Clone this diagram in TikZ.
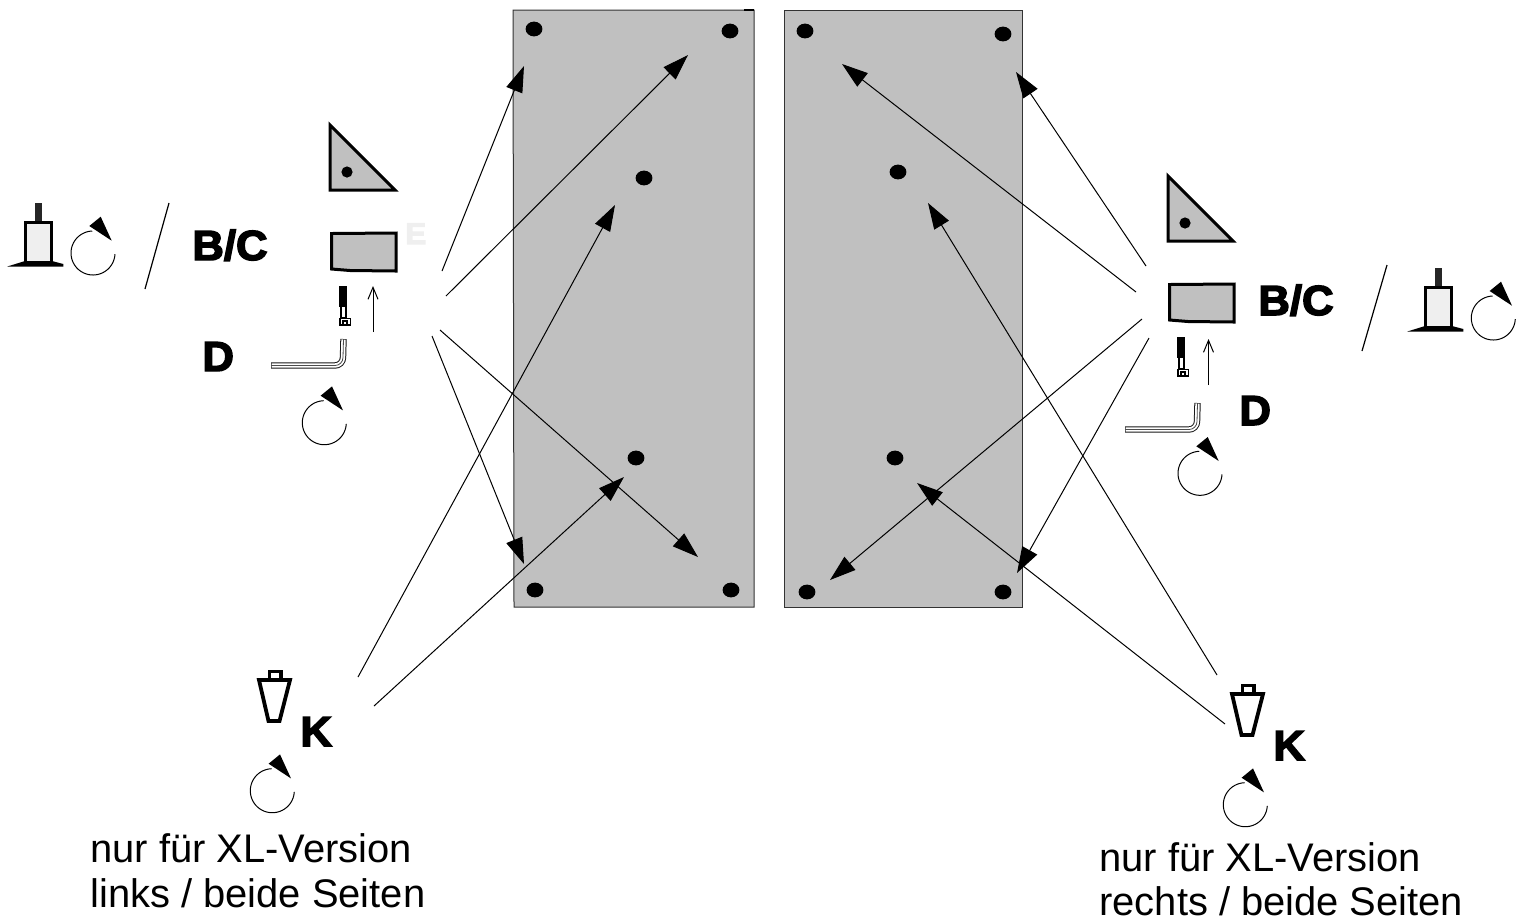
\documentclass[tikz,border=0pt]{standalone}
\usepackage{fontspec}
\setmainfont{Liberation Sans}
\newfontfamily\heavyfont[FakeBold=3.5,FakeStretch=1.04]{Liberation Sans Bold}
\usetikzlibrary{arrows.meta}
\definecolor{panelgray}{HTML}{C0C0C0}
\definecolor{palegray}{HTML}{EFEFEF}
\tikzset{
  conn/.style={line width=0.5pt,-{Triangle[length=13pt,width=8.5pt]}},
  thinline/.style={line width=0.5pt},
  panel/.style={fill=panelgray,draw=black!80,line width=0.5pt},
  part/.style={fill=panelgray,draw=black,line width=1.5pt,line join=miter},
  heavy/.style={anchor=base west,inner sep=0pt,font=\heavyfont\fontsize{21}{24}\selectfont},
  note/.style={anchor=base west,inner sep=0pt,font=\fontsize{19.95}{24}\selectfont},
}
\newcommand{\rotsign}[2]{%
  \draw[thinline] plot[smooth,domain=3:268,samples=50] ({#1+22*cos(\x)},{#2+22*sin(\x)});
  \fill[black] (#1+7.7,#2-36.3) -- (#1-3.7,#2-27) -- (#1+18.7,#2-12.3) -- cycle;
}
\newcommand{\hole}[2]{\fill[black] (#1,#2) ellipse[x radius=4.2pt,y radius=3.7pt];}
\newcommand{\standfoot}{%
  \fill[black!85] (34.7,203) rectangle (42,222);
  \draw[fill=palegray,line width=1.5pt] (25,222) rectangle (51.7,262);
  \fill[black] (7.3,266.5) -- (25,261) -- (52,261) -- (63.3,264) -- (63.3,266.5) -- cycle;
}
\newcommand{\platepart}{%
  \draw[part] (330,125) -- (395,190) -- (330,190) -- cycle;
  \fill[black] (347,172) circle[radius=2.8pt];
  \draw[part] (331.5,233.5) -- (396,233) -- (396,271) -- (350,270.5) -- (331.5,269) -- cycle;
  \draw[line width=0.9pt,fill=white] (341,306) rectangle (346,318);
  \fill[black] (339.3,286) rectangle (346.7,307);
  \draw[line width=0.8pt,fill=white] (339.8,318.5) rectangle (350.3,325);
  \draw[line width=0.6pt,fill=white] (343,321) rectangle (347,324.5);
}
\newcommand{\wrenchpart}{%
  \draw[line width=3.2pt,black!90,line join=round] (271,365.5) -- (335,365.5) arc[start angle=-90,end angle=0,radius=4pt] -- (343.5,339);
  \draw[line width=2.2pt,white,line join=round] (271.5,365.5) -- (335,365.5) arc[start angle=-90,end angle=0,radius=4pt] -- (343.5,339.5);
  \draw[line width=0.4pt,black!70] (271,365.5) -- (335,365.5) arc[start angle=-90,end angle=0,radius=4pt] -- (343.5,339);
}
\newcommand{\conepart}{%
  \draw[line width=1.9pt,line join=miter] (269.5,680) -- (269.5,671.5) -- (281,671.5) -- (281,680);
  \draw[line width=1.9pt,fill=white,line join=miter] (259,680) -- (290,680) -- (279.5,721) -- (268.5,721) -- cycle;
}
\begin{document}
\begin{tikzpicture}[x=0.5pt,y=-0.5pt]
\useasboundingbox (0,0) rectangle (1529,917);
% panels
\draw[panel] (513,10) -- (754,10) -- (754,607) -- (514,607) -- cycle;
\draw[panel] (784,10) -- (1022,10) -- (1022,607) -- (784,607) -- cycle;
\draw[line width=0.8pt,black] (744,10) -- (754,10);
\hole{534}{29}\hole{730}{31}\hole{644}{178}\hole{636}{458}\hole{535}{590}\hole{731}{590}
\hole{805}{31}\hole{1003}{34}\hole{898}{172}\hole{895}{458}\hole{807}{592}\hole{1003}{592}
% connector ends
\coordinate (l1s) at (442,271); \coordinate (l1e) at (524,66);
\coordinate (l2s) at (446,296); \coordinate (l2e) at (688,55);
\coordinate (l3s) at (358,677); \coordinate (l3e) at (615,205);
\coordinate (l4s) at (374,706); \coordinate (l4e) at (624,477);
\coordinate (l5s) at (440,330); \coordinate (l5e) at (698,557);
\coordinate (l6s) at (432,336); \coordinate (l6e) at (524,564);
\coordinate (r1s) at (1146,266); \coordinate (r1e) at (1016,72);
\coordinate (r2s) at (1136,292); \coordinate (r2e) at (842,64);
\coordinate (r3s) at (1142,319); \coordinate (r3e) at (830,580);
\coordinate (r4s) at (1149,338); \coordinate (r4e) at (1017,573);
\coordinate (r5s) at (1217,675); \coordinate (r5e) at (928,203);
\coordinate (r6s) at (1225,724); \coordinate (r6e) at (917,483);
\foreach \c in {l1,l2,l3,l4,l5,l6,r1,r2,r3,r4,r5,r6}
  \draw[conn] (\c s) -- (\c e);
% left group
\standfoot
\rotsign{93}{253}
\coordinate (slashla) at (169,203); \coordinate (slashlb) at (145,289);
\draw[line width=0.6pt] (slashla) -- (slashlb);
\platepart
\coordinate (upls) at (373,332); \coordinate (uple) at (373,286);
\draw[thinline,-{Straight Barb[length=6pt,width=5pt]}] (upls) -- (uple);
\wrenchpart
\rotsign{324.3}{422.7}
\conepart
\rotsign{272.3}{790.7}
\node[heavy] (bcl) at (192,260) {B/C};
\node[heavy,text=palegray,font=\heavyfont\fontsize{15}{18}\selectfont] (el) at (405,244) {E};
\node[heavy] (dl) at (202,371) {D};
\node[heavy] (kl) at (300,746) {K};
\node[note] (nl1) at (90,862) {nur für XL-Version};
\node[note] (nl2) at (90,907) {links / beide Seiten};
% right group
\begin{scope}[shift={(1400,65)}]\standfoot\end{scope}
\rotsign{1493.3}{318}
\coordinate (slashra) at (1387,265); \coordinate (slashrb) at (1362,351);
\draw[line width=0.6pt] (slashra) -- (slashrb);
\begin{scope}[shift={(838,51)}]\platepart\end{scope}
\coordinate (uprs) at (1208.5,385); \coordinate (upre) at (1208.5,339);
\draw[thinline,-{Straight Barb[length=6pt,width=5pt]}] (uprs) -- (upre);
\begin{scope}[shift={(854,64)}]\wrenchpart\end{scope}
\rotsign{1200}{473.3}
\begin{scope}[shift={(973,14)}]\conepart\end{scope}
\rotsign{1245.3}{804.7}
\node[heavy] (bcr) at (1258,315) {B/C};
\node[heavy] (dr) at (1239,425) {D};
\node[heavy] (kr) at (1273,760) {K};
\node[note] (nr1) at (1099,871) {nur für XL-Version};
\node[note] (nr2) at (1099,915) {rechts / beide Seiten};
\end{tikzpicture}
\end{document}
